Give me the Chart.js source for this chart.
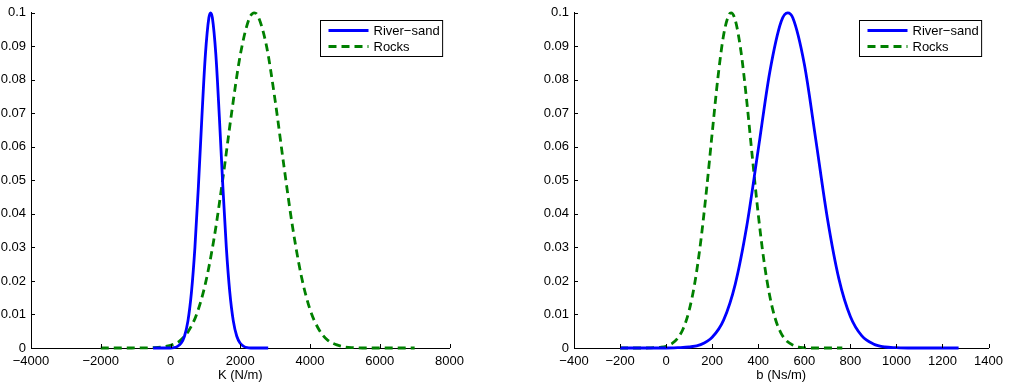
<!DOCTYPE html>
<html>
<head>
<meta charset="utf-8">
<script src="https://cdn.jsdelivr.net/npm/chart.js@4/dist/chart.umd.min.js"></script>
<style>
  html, body { margin: 0; padding: 0; background: #fff; }
  body { width: 1009px; height: 385px; position: relative; overflow: hidden; }
  .box { position: absolute; top: 0; height: 385px; }
  #leftBox { left: 0; width: 470px; }
  #rightBox { left: 520px; width: 489px; }
</style>
</head>
<body>
<div class="box" id="leftBox"><canvas id="cK"></canvas></div>
<div class="box" id="rightBox"><canvas id="cB"></canvas></div>
<script>
// ---------------- data ----------------
const seriesNames = ['River\u2212sand', 'Rocks'];

// Left chart: K (N/m)
const kRiverX = [-500,-400,-300,-200,-100,0,100,200,300,400,500,600,700,800,900,1000,1100,1150,1200,1300,1400,1500,1600,1700,1800,1900,2000,2100,2200,2300,2400,2500,2600,2700,2800];
const kRiverY = [0,0,0,0,0,0,0.0001,0.0005,0.0014,0.0035,0.0081,0.0166,0.0300,0.0483,0.0690,0.0875,0.0985,0.1,0.0985,0.0875,0.0690,0.0483,0.0300,0.0166,0.0081,0.0035,0.0014,0.0005,0.0001,0,0,0,0,0,0];

const kRocksX = [-2000,-1750,-1500,-1250,-1000,-750,-500,-250,0,250,500,750,1000,1250,1500,1750,2000,2250,2400,2500,2750,3000,3250,3500,3750,4000,4250,4500,4750,5000,5250,5500,5750,6000,6250,6500,6750,7000];
const kRocksY = [0,0,0,0,0.00001,0.00002,0.0001,0.0003,0.0008,0.0020,0.0048,0.0101,0.0192,0.0328,0.0505,0.0700,0.0874,0.0981,0.1,0.0992,0.0902,0.0738,0.0544,0.0361,0.0215,0.0115,0.0056,0.0024,0.0010,0.0003,0.0001,0,0,0,0,0,0,0];

// Right chart: b (Ns/m)
const bRiverX = [-200,-150,-100,-50,0,50,100,150,200,250,300,350,400,450,500,528,550,600,650,700,750,800,850,900,950,1000,1050,1100,1150,1200,1250,1270];
const bRiverY = [0,0,0,0,0,0.0001,0.0003,0.0010,0.0032,0.0084,0.0190,0.0363,0.0592,0.0823,0.0975,0.1,0.0985,0.0847,0.0621,0.0388,0.0207,0.0094,0.0036,0.0012,0.0003,0.0001,0,0,0,0,0,0];

const bRocksX = [-200,-175,-150,-125,-100,-75,-50,-25,0,25,50,75,100,125,150,175,200,225,250,275,282,300,325,350,375,400,425,450,475,500,525,550,575,600,625,650,675,700,725,750,765];
const bRocksY = [0,0,0,0,0,0.00002,0.0001,0.0002,0.0005,0.0013,0.0029,0.0059,0.0112,0.0196,0.0316,0.0469,0.0641,0.0807,0.0935,0.0997,0.1,0.0979,0.0885,0.0737,0.0565,0.0399,0.0259,0.0155,0.0085,0.0043,0.0020,0.0009,0.0003,0.0001,0,0,0,0,0,0,0];

// Ticks
const yTickValues = [0,0.01,0.02,0.03,0.04,0.05,0.06,0.07,0.08,0.09,0.1];
const yTickLabels = ['0','0.01','0.02','0.03','0.04','0.05','0.06','0.07','0.08','0.09','0.1'];
const kTickValues = [-4000,-2000,0,2000,4000,6000,8000];
const kTickLabels = ['\u22124000','\u22122000','0','2000','4000','6000','8000'];
const bTickValues = [-400,-200,0,200,400,600,800,1000,1200,1400];
const bTickLabels = ['\u2212400','\u2212200','0','200','400','600','800','1000','1200','1400'];

const xTitles = ['K (N/m)', 'b (Ns/m)'];

// ---------------- styling ----------------
const FONT = '"Liberation Sans", Arial, Helvetica, sans-serif';
const FS = 13;
const BLUE = '#0000ff';
const GREEN = '#008000';
Chart.defaults.font.family = FONT;
Chart.defaults.font.size = FS;
Chart.defaults.color = '#000';

function pts(xs, ys) { return xs.map((x, i) => ({ x: x, y: ys[i] })); }

const inwardTicks = {
  id: 'inwardTicks',
  afterDatasetsDraw(chart) {
    const ctx = chart.ctx, a = chart.chartArea;
    const xs = chart.scales.x, ys = chart.scales.y;
    ctx.save();
    ctx.strokeStyle = '#000';
    ctx.lineWidth = 1;
    ctx.beginPath();
    xs.ticks.forEach(t => {
      const px = Math.round(xs.getPixelForValue(t.value)) + 0.5;
      ctx.moveTo(px, a.bottom);
      ctx.lineTo(px, a.bottom - 4);
    });
    ys.ticks.forEach(t => {
      const py = Math.round(ys.getPixelForValue(t.value)) + 0.5;
      ctx.moveTo(a.left, py);
      ctx.lineTo(a.left + 4, py);
    });
    ctx.stroke();
    ctx.restore();
  }
};

const boxLegend = {
  id: 'boxLegend',
  afterDraw(chart) {
    const ctx = chart.ctx, a = chart.chartArea;
    ctx.save();
    ctx.font = FS + 'px ' + FONT;
    const tw = Math.max(...chart.data.datasets.map(d => ctx.measureText(d.label).width));
    const w = 8 + 40 + 5 + tw + 3;
    const h = 36;
    const x0 = Math.round(a.right - 7 - w) + 0.5;
    const y0 = Math.round(a.top + 7) + 0.5;
    ctx.fillStyle = '#fff';
    ctx.fillRect(x0, y0, w, h);
    ctx.strokeStyle = '#000';
    ctx.lineWidth = 1;
    ctx.strokeRect(x0, y0, w, h);
    chart.data.datasets.forEach((d, i) => {
      const yy = y0 + 10 + i * 16;
      ctx.beginPath();
      ctx.strokeStyle = d.borderColor;
      ctx.lineWidth = d.borderWidth;
      ctx.setLineDash(d.borderDash || []);
      ctx.moveTo(x0 + 8, yy);
      ctx.lineTo(x0 + 48, yy);
      ctx.stroke();
      ctx.setLineDash([]);
      ctx.fillStyle = '#000';
      ctx.textBaseline = 'middle';
      ctx.textAlign = 'left';
      ctx.fillText(d.label, x0 + 53, yy + 1);
    });
    ctx.restore();
  }
};

function makeChart(id, riverX, riverY, rocksX, rocksY, xMin, xMax, xVals, xLabels, title, yWidth, padRight) {
  return new Chart(document.getElementById(id), {
    type: 'line',
    data: {
      datasets: [
        { label: seriesNames[0], data: pts(riverX, riverY), borderColor: BLUE, backgroundColor: BLUE,
          borderWidth: 2.8, pointRadius: 0, cubicInterpolationMode: 'monotone', fill: false, clip: 8 },
        { label: seriesNames[1], data: pts(rocksX, rocksY), borderColor: GREEN, backgroundColor: GREEN,
          borderWidth: 2.8, borderDash: [8, 5], pointRadius: 0, cubicInterpolationMode: 'monotone', fill: false, clip: 8 }
      ]
    },
    options: {
      responsive: true,
      maintainAspectRatio: false,
      devicePixelRatio: 1,
      animation: false,
      events: [],
      layout: { padding: { left: 0, right: padRight, top: 10, bottom: 0 } },
      plugins: { legend: { display: false }, tooltip: { enabled: false } },
      scales: {
        x: {
          type: 'linear', min: xMin, max: xMax,
          afterBuildTicks: s => { s.ticks = xVals.map(v => ({ value: v })); },
          afterFit: s => { s.height = 37; },
          grid: { display: false, drawTicks: false, tickLength: 0 },
          border: { display: true, color: '#000', width: 1 },
          ticks: { padding: 6, maxRotation: 0, autoSkip: false, color: '#000',
                   callback: (v, i) => xLabels[i] },
          title: { display: true, text: title, color: '#000', padding: { top: 0, bottom: 2 }, font: { size: FS } }
        },
        y: {
          type: 'linear', min: 0, max: 0.1,
          afterBuildTicks: s => { s.ticks = yTickValues.map(v => ({ value: v })); },
          afterFit: s => { s.width = yWidth; },
          grid: { display: false, drawTicks: false, tickLength: 0 },
          border: { display: true, color: '#000', width: 1 },
          ticks: { padding: 5, autoSkip: false, color: '#000',
                   callback: (v, i) => yTickLabels[i] }
        }
      }
    },
    plugins: [inwardTicks, boxLegend]
  });
}

makeChart('cK', kRiverX, kRiverY, kRocksX, kRocksY, -4000, 8000, kTickValues, kTickLabels, xTitles[0], 31, 20);
makeChart('cB', bRiverX, bRiverY, bRocksX, bRocksY, -400, 1400, bTickValues, bTickLabels, xTitles[1], 54, 16);
</script>
</body>
</html>
